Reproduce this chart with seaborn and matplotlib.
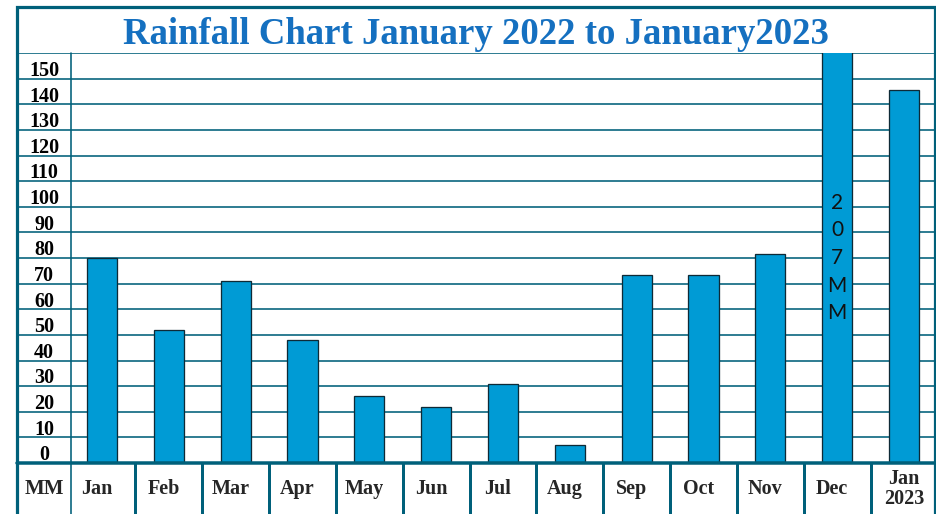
"""
Rainfall chart, January 2022 - January 2023
"""

import matplotlib.pyplot as plt
import seaborn as sns
import pandas as pd
import numpy as np
from matplotlib.patches import Rectangle
from matplotlib.transforms import blended_transform_factory, ScaledTranslation

# Duomenys (mm)
months = ['Jan', 'Feb', 'Mar', 'Apr', 'May', 'Jun', 'Jul', 'Aug',
          'Sep', 'Oct', 'Nov', 'Dec', 'Jan\n2023']
rainfall = [80, 52, 71, 48, 26, 22, 31, 7, 73.5, 73.5, 81.5, 207, 145.5]
y_labels = [0, 10, 20, 30, 40, 50, 60, 70, 80, 90, 100, 110, 120, 130, 140, 150]
dec_note = '2\n0\n7\nM\nM'
title = 'Rainfall Chart January 2022 to January2023'

sns.set_style('white')
plt.rcParams['font.family'] = ['Liberation Serif', 'DejaVu Serif']

frame_color = '#00607A'
bar_color = '#009BD5'
title_color = '#1570C0'
px = 0.72  # 1 px in points at dpi 100

W, H = 937, 514
fig = plt.figure(figsize=(W / 100, H / 100), dpi=100)
ax = fig.add_axes([17 / W, 51 / H, 918 / W, 410 / H])

df = pd.DataFrame({'month': months, 'mm': rainfall})
sns.barplot(data=df, x='month', y='mm', color=bar_color, saturation=1,
            width=0.45, edgecolor='#0E2A36', linewidth=1.3 * px, ax=ax, zorder=3)

ax.set_xlim(-1.272, 12.464)
ax.set_ylim(0, 160)
ax.set_xlabel('')
ax.set_ylabel('')
for s in ax.spines.values():
    s.set_visible(False)

# horizontalios linijos
ax.set_yticks(np.arange(0, 161, 10))
ax.set_yticklabels([])
ax.tick_params(axis='y', length=0)
ax.grid(axis='y', color=frame_color, linewidth=1.6 * px, zorder=1)
ax.grid(axis='x', visible=False)
ax.axhline(0, color=frame_color, linewidth=3.5 * px, zorder=4, clip_on=False)

# Y reikšmės kairiajame stulpelyje
col_x = -0.868
for v in y_labels:
    ax.text(col_x, v + 3, str(v), ha='center', va='center', fontsize=14.5,
            fontweight='bold', color='black')

# kairio stulpelio skirtukas
ax.axvline(-0.47, ymin=-0.3, ymax=1, color=frame_color, linewidth=1.6 * px,
           clip_on=False, zorder=2)

# apatinė eilutė su mėnesiais
trans = blended_transform_factory(ax.transData, ax.transAxes)
for b in np.arange(0.5, len(months) - 1, 1):
    ax.axvline(b, ymin=-0.3, ymax=0, color=frame_color, linewidth=3 * px,
               clip_on=False, zorder=2)

ax.set_xticks(range(len(months)))
ax.set_xticklabels(months, fontsize=14.5, fontweight='bold', va='center',
                   linespacing=0.95)
ax.tick_params(axis='x', length=0, pad=26 * px)
# mėnesių užrašai šiek tiek pasislinkę į kairę, kaip originale
shift = ScaledTranslation(-5 / 100, 0, fig.dpi_scale_trans)
for lab in ax.get_xticklabels()[:-1]:
    lab.set_transform(lab.get_transform() + shift)
ax.text(col_x, -26 / 410, 'MM', transform=trans, ha='center', va='center',
        fontsize=15, fontweight='bold')

# Gruodžio užrašas
ax.text(11, 80, dec_note, ha='center', va='center', fontsize=15,
        family=['Lato', 'DejaVu Sans'], linespacing=1.48, color='#111111',
        zorder=5)

# Pavadinimas
fig.text(476 / W, 1 - 44 / H, title, ha='center', va='baseline', fontsize=26.5,
         fontweight='bold', color=title_color)

# Rėmelis
fig.add_artist(Rectangle((17 / W, -0.05), 918 / W, 1 - 7 / H + 0.05,
                         transform=fig.transFigure, fill=False,
                         edgecolor=frame_color, linewidth=3.2 * px, zorder=10))

fig.savefig('out.png', dpi=100)
